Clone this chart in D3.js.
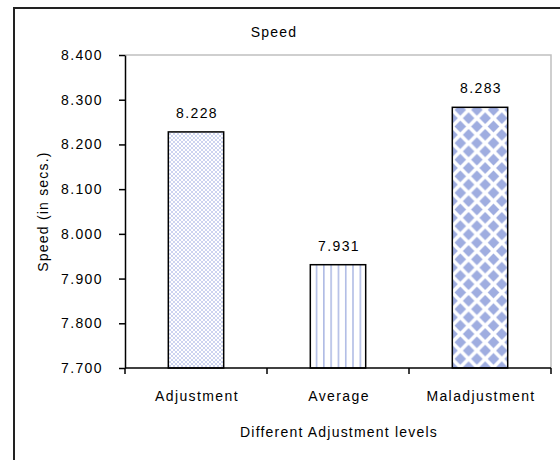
<!DOCTYPE html>
<html>
<head>
<meta charset="utf-8">
<script src="https://cdn.jsdelivr.net/npm/d3@7"></script>
<style>
  body { margin: 0; background: #fff; }
  text { font-family: "Liberation Sans", Arial, sans-serif; fill: #000; font-size: 14px; letter-spacing: 1.4px; }
</style>
</head>
<body>
<svg id="chart"></svg>
<script>
var width = 560,
    height = 460;

// data
var categories = ["Adjustment", "Average", "Maladjustment"];
var speeds = [8.228, 7.931, 8.283];
var yTicks = [7.7, 7.8, 7.9, 8.0, 8.1, 8.2, 8.3, 8.4];
var patterns = ["lattice", "stripes", "diamonds"];

var margin = {top: 55, right: 9, bottom: 92, left: 125};
var blue = "#9fade0";

var svg = d3.select("#chart")
    .attr("width", width)
    .attr("height", height);

// patterns for the bars
var defs = svg.append("defs");

var p1 = defs.append("pattern").attr("id", "lattice")
    .attr("patternUnits", "userSpaceOnUse").attr("width", 4).attr("height", 4);
p1.append("rect").attr("width", 4).attr("height", 4).attr("fill", "#fff");
p1.append("path").attr("d", "M0,0L4,4M4,0L0,4")
    .attr("stroke", "#b7c1ea").attr("stroke-width", 0.7);

var p2 = defs.append("pattern").attr("id", "stripes")
    .attr("patternUnits", "userSpaceOnUse").attr("width", 7.3).attr("height", 4);
p2.append("rect").attr("width", 7.3).attr("height", 4).attr("fill", "#fff");
p2.append("rect").attr("x", 2).attr("width", 1.3).attr("height", 4).attr("fill", blue);

var p3 = defs.append("pattern").attr("id", "diamonds")
    .attr("patternUnits", "userSpaceOnUse").attr("width", 16.6).attr("height", 16.6)
    .attr("x", 452).attr("y", 2);
p3.append("rect").attr("width", 16.6).attr("height", 16.6).attr("fill", "#fff");
[[8.3, 8.3], [0, 0], [16.6, 0], [0, 16.6], [16.6, 16.6]].forEach(function(c) {
  var r = 5.8;
  p3.append("path")
    .attr("d", "M" + c[0] + "," + (c[1] - r) + "L" + (c[0] + r) + "," + c[1] +
               "L" + c[0] + "," + (c[1] + r) + "L" + (c[0] - r) + "," + c[1] + "Z")
    .attr("fill", blue);
});

// outer chart frame (cut off on the right and bottom)
svg.append("rect")
    .attr("x", 14).attr("y", 8)
    .attr("width", 600).attr("height", 500)
    .attr("fill", "none").attr("stroke", "#222").attr("stroke-width", 2);

var x = d3.scaleBand()
    .domain(categories)
    .range([margin.left, width - margin.right])
    .paddingInner(0.61)
    .paddingOuter(0.305);

var y = d3.scaleLinear()
    .domain([7.7, 8.4])
    .range([height - margin.bottom, margin.top]);

// plot area border (top and right, gray)
svg.append("path")
    .attr("d", "M" + margin.left + "," + margin.top + "H" + (width - margin.right) +
               "V" + (height - margin.bottom))
    .attr("fill", "none").attr("stroke", "#c0c0c0").attr("stroke-width", 1.5);

// bars
svg.selectAll(".bar")
  .data(speeds)
  .join("rect")
    .attr("class", "bar")
    .attr("x", function(d, i) { return x(categories[i]); })
    .attr("y", function(d) { return y(d); })
    .attr("width", x.bandwidth())
    .attr("height", function(d) { return y(7.7) - y(d); })
    .attr("fill", function(d, i) { return "url(#" + patterns[i] + ")"; })
    .attr("stroke", "#000")
    .attr("stroke-width", 1.5);

// value labels
svg.selectAll(".val")
  .data(speeds)
  .join("text")
    .attr("class", "val")
    .attr("x", function(d, i) { return x(categories[i]) + x.bandwidth() / 2 + 1; })
    .attr("y", function(d) { return y(d) - 14; })
    .attr("text-anchor", "middle")
    .text(function(d) { return d3.format(".3f")(d); });

// y axis
var yAxis = svg.append("g")
    .attr("transform", "translate(" + margin.left + ",0)")
    .call(d3.axisLeft(y).tickValues(yTicks).tickFormat(d3.format(".3f"))
      .tickSize(6).tickSizeOuter(0).tickPadding(16));
yAxis.attr("font-size", null).attr("font-family", null);
yAxis.select(".domain").attr("stroke", "#000").attr("stroke-width", 1.5);
yAxis.selectAll(".tick line").attr("stroke", "#000").attr("stroke-width", 1.5);

// x axis: ticks sit between categories
var xAxis = svg.append("g")
    .attr("transform", "translate(0," + (height - margin.bottom) + ")");
xAxis.append("line")
    .attr("x1", margin.left).attr("x2", width - margin.right)
    .attr("stroke", "#000").attr("stroke-width", 1.5);
var bounds = categories.map(function(c) { return x(c) - x.step() * x.paddingInner() / 2; })
    .concat([width - margin.right]);
xAxis.selectAll(".xt")
  .data(bounds)
  .join("line")
    .attr("class", "xt")
    .attr("x1", function(d) { return d; }).attr("x2", function(d) { return d; })
    .attr("y1", 0).attr("y2", 6)
    .attr("stroke", "#000").attr("stroke-width", 1.5);
xAxis.selectAll(".xl")
  .data(categories)
  .join("text")
    .attr("class", "xl")
    .attr("x", function(d) { return x(d) + x.bandwidth() / 2 + 1; })
    .attr("y", 33)
    .attr("text-anchor", "middle")
    .text(function(d) { return d; });

// titles
svg.append("text")
    .attr("x", 274).attr("y", 37)
    .attr("text-anchor", "middle")
    .style("letter-spacing", "1.2px")
    .text("Speed");

svg.append("text")
    .attr("x", 339).attr("y", 437)
    .attr("text-anchor", "middle")
    .style("letter-spacing", "1.2px")
    .text("Different Adjustment levels");

svg.append("text")
    .attr("transform", "translate(48," + (margin.top + (height - margin.bottom - margin.top) / 2) + ") rotate(-90)")
    .attr("text-anchor", "middle")
    .style("letter-spacing", "1.2px")
    .text("Speed (in secs.)");
</script>
</body>
</html>
